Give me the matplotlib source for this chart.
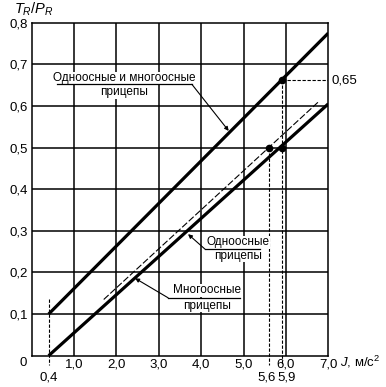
import matplotlib
matplotlib.use('Agg')
import matplotlib.pyplot as plt

plt.rcParams['font.family'] = ['Liberation Sans', 'DejaVu Sans']
plt.rcParams['mathtext.fontset'] = 'custom'
plt.rcParams['mathtext.rm'] = 'Liberation Sans'
plt.rcParams['mathtext.it'] = 'Liberation Sans:italic'

# ==================== данные ====================
x_ticks = [1, 2, 3, 4, 5, 6, 7]
x_labels = ['1,0', '2,0', '3,0', '4,0', '5,0', '6,0', '7,0']
y_ticks = [0.1, 0.2, 0.3, 0.4, 0.5, 0.6, 0.7, 0.8]
y_labels = ['0,1', '0,2', '0,3', '0,4', '0,5', '0,6', '0,7', '0,8']

# прямые (концы отрезков)
upper_x = [0.4, 7.0]
upper_y = [0.1, 0.775]          # одноосные и многоосные
lower_x = [0.4, 7.0]
lower_y = [0.0, 0.605]          # многоосные
single_x = [1.7, 6.78]
single_y = [0.135, 0.611]       # одноосные (штриховая)

# отмеченные точки
pts_x = [5.9, 5.6, 5.9]
pts_y = [0.662, 0.5, 0.5]

# вспомогательные отметки
mark_x = [0.4, 5.6, 5.9]
mark_labels = ['0,4', '5,6', '5,9']
mark_top = [0.136, 0.5, 0.662]

FS = 9.5

fig = plt.figure(figsize=(3.86, 3.87), dpi=100)
ax = fig.add_axes([0.0821, 0.0809, 0.7684, 0.8605])
ax.set_xlim(0, 7)
ax.set_ylim(0, 0.8)

# сетка
for xv in x_ticks[:-1]:
    ax.axvline(xv, color='black', lw=1.1, zorder=1)
for yv in y_ticks[:-1]:
    ax.axhline(yv, color='black', lw=1.1, zorder=1)
for s in ax.spines.values():
    s.set_linewidth(1.1)

ax.set_xticks(x_ticks)
ax.set_xticklabels(x_labels, fontsize=FS)
ax.set_yticks(y_ticks)
ax.set_yticklabels(y_labels, fontsize=FS)
ax.tick_params(length=0, pad=3)
ax.tick_params(axis='x', pad=2)
# подпись 6,0 чуть правее, как на оригинале
ax.get_xticklabels()[5].set_x(6.08)

# основные линии
ax.plot(upper_x, upper_y, color='black', lw=2.3, zorder=3, solid_capstyle='butt')
ax.plot(lower_x, lower_y, color='black', lw=2.3, zorder=3, solid_capstyle='butt')
ax.plot(single_x, single_y, color='black', lw=0.8, ls=(0, (6, 2)), zorder=3)

# вертикальные штриховые до оси и подписи
label_dx = [0.0, -0.06, 0.12]
for mx, lab, top, dx in zip(mark_x, mark_labels, mark_top, label_dx):
    ax.plot([mx, mx], [top, -0.022], color='black', lw=0.8, ls=(0, (3, 1.5)),
            clip_on=False, zorder=2)
    ax.text(mx + dx, -0.052, lab, ha='center', va='center', fontsize=FS,
            clip_on=False)

# горизонтальная штриховая 0,65
ax.plot([pts_x[0], 7.0], [pts_y[0], pts_y[0]], color='black', lw=0.8,
        ls=(0, (3, 1.5)), zorder=2)
ax.text(7.07, pts_y[0], '0,65', ha='left', va='center', fontsize=FS)

ax.plot(pts_x, pts_y, 'o', color='black', ms=4.5, zorder=4)

# подписи осей
ax.text(-0.2, -0.017, '0', ha='center', va='center', fontsize=FS)
ax.text(7.28, -0.015, r'$J$, м/с$^2$', ha='left', va='center', fontsize=FS)
fig.text(0.036, 0.975, r'$T_R/P_R$', ha='left', va='center', fontsize=10.5)

# выноски
box = dict(facecolor='white', edgecolor='none', pad=0.5)
arr = dict(arrowstyle='-|>', lw=0.8, color='black', mutation_scale=6,
           shrinkA=0, shrinkB=0)
FA = 8.5

ax.text(2.18, 0.666, 'Одноосные и многоосные', ha='center', va='center',
        fontsize=FA, bbox=box, zorder=4)
ax.text(2.18, 0.633, 'прицепы', ha='center', va='center', fontsize=FA,
        bbox=box, zorder=4)
ax.plot([0.6, 3.78], [0.652, 0.652], color='black', lw=0.9, zorder=5)
ax.annotate('', xy=(4.65, 0.54), xytext=(3.78, 0.652), arrowprops=arr, zorder=5)

ax.text(4.87, 0.272, 'Одноосные', ha='center', va='center', fontsize=FA,
        bbox=box, zorder=4)
ax.text(4.87, 0.240, 'прицепы', ha='center', va='center', fontsize=FA,
        bbox=box, zorder=4)
ax.plot([4.09, 5.38], [0.256, 0.256], color='black', lw=0.9, zorder=5)
ax.annotate('', xy=(3.69, 0.292), xytext=(4.09, 0.256), arrowprops=arr, zorder=5)

ax.text(4.13, 0.157, 'Многоосные', ha='center', va='center', fontsize=FA,
        bbox=box, zorder=4)
ax.text(4.13, 0.12, 'прицепы', ha='center', va='center', fontsize=FA,
        bbox=box, zorder=4)
ax.plot([3.22, 4.91], [0.139, 0.139], color='black', lw=0.9, zorder=5)
ax.annotate('', xy=(2.44, 0.186), xytext=(3.22, 0.139), arrowprops=arr, zorder=5)

fig.savefig('out.png', dpi=100)
